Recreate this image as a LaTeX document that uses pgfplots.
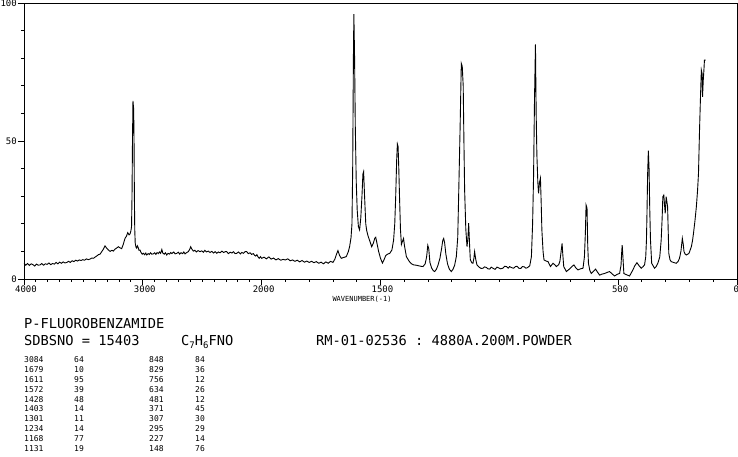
\documentclass[border=0pt]{standalone}
\usepackage{fontspec}
\setmonofont{DejaVu Sans Mono}
\usepackage{pgfplots}
\pgfplotsset{compat=1.18}

% Raman spectrum, wavenumber axis with a scale break at 2000 (upper half compressed 2x)
\begin{document}
\begin{tikzpicture}[x=1pt,y=1pt]
\useasboundingbox (0,0) rectangle (738,457);
\begin{axis}[
  at={(24pt,178pt)}, anchor=south west,
  scale only axis, width=713pt, height=276pt,
  x coord trafo/.code={\pgfmathparse{min(#1,2000)+max(#1-2000,0)/2}},
  x dir=reverse,
  xmin=0, xmax=4000, ymin=0, ymax=100,
  xtick={0,500,1500,2000,3000,4000},
  xticklabels={\hbox to 0pt{\hss 0},500,1500,2000,3000,4000},
  minor xtick={100,200,...,3900},
  ytick={0,50,100},
  minor ytick={10,20,...,90},
  tick pos=left, tick align=outside,
  major tick length=6pt, minor tick length=3pt,
  every tick/.style={black, line width=0.9pt},
  axis line style={line width=0.9pt},
  /pgf/number format/assume math mode=true,
  xticklabel style={font=\ttfamily\fontsize{9}{9}\selectfont, xshift=2pt, inner sep=1pt},
  yticklabel style={font=\ttfamily\fontsize{9}{9}\selectfont, inner sep=1pt},
]
\addplot[black, line width=0.9pt, mark=none] coordinates {
(4000,5.7)(3985,5.0)(3970,5.6)(3955,4.9)(3940,5.5)(3925,5.2)(3910,4.7)(3895,5.4)
(3880,5.0)(3865,5.1)(3850,5.6)(3835,5.0)(3820,5.5)(3805,5.3)(3790,5.8)(3775,5.2)
(3760,5.6)(3745,5.4)(3730,6.0)(3715,5.5)(3700,6.1)(3685,5.7)(3670,6.2)(3655,5.8)
(3640,6.0)(3625,6.4)(3610,6.0)(3595,6.6)(3580,6.3)(3565,6.8)(3550,6.5)(3535,6.9)
(3520,6.7)(3505,7.0)(3490,6.8)(3475,7.3)(3460,7.0)(3445,7.2)(3430,7.6)(3415,7.5)
(3400,8.0)(3388,8.3)(3375,8.8)(3360,9.0)(3346,9.9)(3332,10.8)(3318,12.0)(3305,11.2)
(3290,10.5)(3275,10.0)(3260,10.4)(3248,10.1)(3235,10.8)(3220,11.2)(3206,11.7)(3192,11.3)
(3178,11.0)(3165,12.5)(3150,14.7)(3138,15.5)(3127,16.8)(3116,16.0)(3108,16.3)(3100,17.5)
(3095,19)(3091,30)(3087,50)(3083,64.5)(3080,63)(3077,61.6)(3074,50)(3071,30)
(3068,18)(3064,13)(3058,11.6)(3052,11.2)(3046,12.0)(3040,11.5)(3032,10.4)(3024,10.5)
(3015,9.6)(3005,9.0)(2995,9.3)(2985,8.8)(2975,9.4)(2968,8.7)(2955,9.2)(2945,8.9)
(2935,9.5)(2925,9.0)(2912,9.1)(2900,9.5)(2890,8.9)(2880,9.6)(2870,9.2)(2860,9.8)
(2850,9.3)(2840,10.7)(2832,9.4)(2820,9.0)(2810,9.5)(2799,8.7)(2788,9.3)(2775,9.0)
(2765,9.6)(2755,9.2)(2740,9.8)(2728,9.1)(2715,9.3)(2700,9.7)(2690,9.0)(2678,9.5)
(2665,9.2)(2655,9.8)(2645,9.1)(2630,9.6)(2617,9.9)(2605,10.8)(2597,11.7)(2588,10.9)
(2575,10.1)(2562,10.4)(2550,9.8)(2535,10.3)(2519,9.9)(2505,10.2)(2490,9.7)(2478,10.4)
(2465,9.8)(2449,10.1)(2435,9.6)(2420,10.0)(2405,9.4)(2392,9.9)(2378,9.3)(2365,9.8)
(2350,9.5)(2335,10.1)(2320,9.6)(2307,9.9)(2294,9.9)(2280,9.2)(2265,9.7)(2250,9.4)
(2237,9.9)(2224,9.2)(2210,9.3)(2195,9.8)(2180,9.1)(2167,9.6)(2153,9.3)(2140,9.9)
(2126,9.9)(2112,9.2)(2098,9.5)(2085,8.9)(2070,9.2)(2060,8.6)(2050,8.3)(2040,8.8)
(2030,8.0)(2021,7.5)(2010,8.1)(2000,7.5)
(1990,7.9)(1980,7.3)(1970,8.0)(1960,7.2)(1950,7.6)(1940,6.9)(1930,7.4)(1920,6.8)
(1910,7.1)(1900,6.9)(1890,7.3)(1880,6.6)(1870,6.9)(1860,6.4)(1850,6.8)(1840,6.2)
(1830,6.7)(1820,6.1)(1810,6.5)(1800,6.0)(1790,6.4)(1780,5.9)(1770,6.3)(1760,5.7)
(1750,6.1)(1740,5.5)(1730,6.2)(1720,5.7)(1710,6.4)(1700,6.0)(1692,7.2)(1685,9.0)
(1679,10.3)(1672,8.5)(1665,7.5)(1655,7.8)(1644,8.1)(1635,10.0)(1630,11.7)(1624,15)
(1620,20)(1617,40)(1614,80)(1612,96)(1609,80)(1606,55)(1602,35)(1598,25)
(1593,19)(1588,17.8)(1583,22)(1578,30)(1574,38)(1571,38.9)(1567,30)(1562,20)
(1558,17.5)(1552,15.5)(1546,14)(1537,11.7)(1530,13)(1524,14.8)(1520,15.1)(1515,13)
(1508,10)(1500,7.5)(1492,5.8)(1485,7)(1478,8.5)(1470,9)(1461,9.3)(1452,10.5)
(1445,14)(1440,20)(1436,30)(1432,43)(1429,48.9)(1426,48)(1423,40)(1420,30)
(1416,18)(1412,12.5)(1406,14)(1403,14.7)(1399,12)(1391,8.1)(1380,6.5)(1370,5.5)
(1360,5.1)(1350,5.0)(1340,4.8)(1330,4.6)(1321,4.5)(1312,5.5)(1306,8)(1301,12.2)
(1297,11)(1292,6)(1285,4)(1278,3)(1272,2.7)(1265,3.5)(1258,5)(1250,7.5)
(1243,11)(1238,14)(1234,14.7)(1230,13)(1225,9)(1218,5.5)(1210,3.5)(1202,2.7)
(1195,3.5)(1188,5)(1181,8.1)(1175,15)(1170,34.7)(1165,55)(1160,78.1)(1156,77)
(1152,70)(1149,50)(1146,32.2)(1141,18)(1136,11.7)(1132,15)(1129,20.2)(1125,12)
(1122,6.9)(1115,5.8)(1111,5.7)(1107,7.5)(1104,9.9)(1099,7)(1094,5.1)(1085,4.3)
(1077,3.8)(1069,3.9)(1062,4.4)(1055,4.2)(1048,3.7)(1040,3.6)(1034,4.3)(1027,3.9)
(1018,3.5)(1010,4.3)(1002,4.0)(995,3.7)(985,3.9)(978,4.6)(970,4.5)(963,3.9)
(957,4.5)(948,4.1)(940,3.9)(932,4.5)(925,4.6)(918,3.9)(910,3.8)(903,4.5)
(895,4.4)(888,3.9)(880,4.2)(872,4.8)(865,8.1)(860,20)(856,37)(852,65)
(848,85)(845,60)(842,45)(838,35)(835,31)(831,35)(827,36.5)(824,28)
(821,17.8)(816,10)(812,6.9)(803,6.5)(795,6.3)(785,4.5)(774,5.7)(765,5)
(760,4.5)(750,5.2)(745,6.5)(740,10)(736,12.9)(733,9)(729,4.5)(718,2.7)
(705,3.6)(695,4.5)(686,5.1)(678,4)(669,3.3)(658,3.7)(648,3.9)(642,8)
(638,16.6)(635,26.8)(631,25.7)(628,12)(625,5.7)(619,3)(613,2)(604,2.8)
(595,3.6)(587,2.5)(578,1.4)(567,1.8)(557,2)(546,2.4)(536,2.7)(525,1.8)
(515,1.1)(504,1.7)(494,2)(488,5)(485,10)(483,12.3)(480,8)(476,2)
(464,1.5)(452,1.1)(445,2.2)(438,3.3)(430,4.8)(421,5.9)(412,4.8)(403,3.9)
(395,4.5)(389,5.1)(384,8)(381,14)(379,22.6)(376,38)(373,46.5)(370,40)
(367,25)(364,14.1)(359,5.7)(347,3.9)(340,4.5)(333,5.7)(325,8)(319,14.1)
(315,22)(312,29.8)(308,30.4)(305,27)(302,23.8)(298,29.8)(295,28)(292,26.2)
(289,16)(287,9.3)(282,7)(277,6.3)(267,6)(256,5.7)(248,6.3)(242,7.5)
(236,10)(230,14.7)(226,12.5)(223,9.9)(218,9)(213,8.7)(207,9)(202,9.3)
(197,10.5)(192,11.7)(187,14)(183,16.6)(177,21)(171,26.2)(166,32)(162,38.3)
(158,52.8)(154,64.9)(150,75.7)(147,74.5)(145,66)(142,72)(139,76)(137,79.3)
(132,79.3)
};
\end{axis}
\node[font=\ttfamily\fontsize{7}{7}\selectfont, inner sep=0pt] at (362,158) {WAVENUMBER(-1)};
\begin{scope}[every node/.style={font=\ttfamily\fontsize{13.7}{13.7}\selectfont, inner sep=0pt, anchor=base west}]
\node at (24,128) {P-FLUOROBENZAMIDE};
\node at (24,111) {SDBSNO = 15403};
\node at (181,111) {C{\fontsize{9}{9}\selectfont\raisebox{-2.5pt}{7}}H{\fontsize{9}{9}\selectfont\raisebox{-2.5pt}{6}}FNO};
\node at (316,111) {RM-01-02536 : 4880A.200M.POWDER};
\end{scope}
\begin{scope}[every node/.style={font=\ttfamily\fontsize{8}{8}\selectfont, inner sep=0pt, anchor=base west}]
\foreach \a/\b/\c/\d [count=\i from 0] in {3084/64/848/84, 1679/10/829/36, 1611/95/756/12, 1572/39/634/26, 1428/48/481/12, 1403/14/371/45, 1301/11/307/30, 1234/14/295/29, 1168/77/227/14, 1131/19/148/76} {
  \node at (24,94-9.8*\i) {\a};
  \node at (74,94-9.8*\i) {\b};
  \node at (149,94-9.8*\i) {\c};
  \node at (195,94-9.8*\i) {\d};
}
\end{scope}
\end{tikzpicture}
\end{document}
